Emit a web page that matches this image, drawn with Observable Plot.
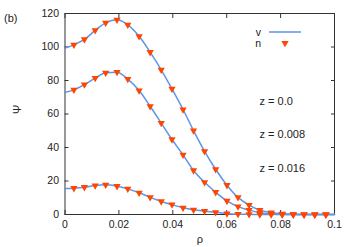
<!DOCTYPE html>
<html><head><meta charset="utf-8">
<script src="https://cdn.jsdelivr.net/npm/d3@7"></script>
<script src="https://cdn.jsdelivr.net/npm/@observablehq/plot@0.6"></script>
<style>
body{margin:0;background:#fff;}
#chart{position:relative;width:353px;height:247px;}
</style></head>
<body><div id="chart"></div>
<script>
const rho = [0.0033,0.0072,0.0112,0.0151,0.0193,0.0233,0.0275,0.0316,0.0357,0.0397,0.0438,0.0477,0.0518,0.0559,0.0601,0.0642,0.0683,0.0723,0.0765,0.0806,0.0847,0.0887,0.0927,0.0968];
const nZ0    = [101.3,104.5,109.9,114.4,116.2,113.2,106.4,96.9,86.4,75.0,62.7,50.1,37.7,27.0,17.5,10.2,5.6,2.6,1.2,0.4,0.1,0,0,0];
const nZ008  = [74.4,77.6,81.4,84.6,85.0,80.8,74.0,64.6,54.6,44.8,35.6,26.3,19.2,13.3,8.1,4.7,2.6,1.1,0.4,0.1,0,0,0,0];
const nZ016  = [15.7,16.3,17.3,17.7,16.9,15.3,13.0,10.3,7.8,5.9,4.0,2.8,2.0,1.3,0.5,0.2,0.1,0,0,0,0,0,0,0];
const vStart = [99.3,73.0,15.5];
const vEnd = [0,0,0];
const rhoStart = 0, rhoEnd = 0.1;
const seriesNames = ["z = 0.0","z = 0.008","z = 0.016"];
const xTicks = [0,0.02,0.04,0.06,0.08,0.1];
const yTicks = [0,20,40,60,80,100,120];

const nSeries = [nZ0,nZ008,nZ016];
const points = [];
nSeries.forEach((arr,s)=>arr.forEach((v,i)=>points.push({s,rho:rho[i],psi:v})));
const lines = [];
nSeries.forEach((arr,s)=>{
  lines.push({s,rho:rhoStart,psi:vStart[s]});
  arr.forEach((v,i)=>lines.push({s,rho:rho[i],psi:v}));
  lines.push({s,rho:rhoEnd,psi:vEnd[s]});
});

const lineColor = "#5e95e8", dotColor = "#ff4500", ink = "#222";

const legend = (index, scales, values, dims) => {
  const g = d3.create("svg:g");
  const xr = dims.width - dims.marginRight;
  const yt = dims.marginTop;
  g.append("text").attr("x", xr-73).attr("y", yt+19).attr("dy","0.35em").attr("text-anchor","end").attr("fill",ink).text("v");
  g.append("line").attr("x1", xr-65).attr("x2", xr-33).attr("y1", yt+19).attr("y2", yt+19).attr("stroke",lineColor).attr("stroke-width",1.5);
  g.append("text").attr("x", xr-73).attr("y", yt+30).attr("dy","0.35em").attr("text-anchor","end").attr("fill",ink).text("n");
  g.append("path").attr("transform",`translate(${xr-49},${yt+30}) rotate(180)`).attr("d", d3.symbol(d3.symbolTriangle, 23)()).attr("fill",dotColor);
  return g.node();
};

const labelDy = [84,117,151];

const chart = Plot.plot({
  width: 353, height: 247,
  marginLeft: 64.5, marginRight: 19, marginTop: 13, marginBottom: 33,
  style: {fontFamily: "'Liberation Sans', Arial, sans-serif", fontSize: "10.5px", color: ink, background: "#fff"},
  x: {domain: [0,0.1], label: null},
  y: {domain: [0,120], label: null},
  marks: [
    Plot.frame({stroke: "#333"}),
    Plot.axisX({anchor:"bottom", ticks: xTicks, tickSize: -4, tickPadding: 10, tickFormat: d => String(+d.toFixed(2)), stroke:"#333", fill: ink, label: null}),
    Plot.axisX({anchor:"top", ticks: xTicks, tickSize: -4, tickFormat: () => "", stroke:"#333", label: null}),
    Plot.axisY({anchor:"left", ticks: yTicks, tickSize: -4, tickPadding: 10, stroke:"#333", fill: ink, label: null}),
    Plot.axisY({anchor:"right", ticks: yTicks, tickSize: -4, tickFormat: () => "", stroke:"#333", label: null}),
    Plot.line(lines, {x:"rho", y:"psi", z:"s", stroke: lineColor, strokeWidth: 1.5, curve: "monotone-x"}),
    Plot.dot(points, {x:"rho", y:"psi", symbol:"triangle", r: 2.7, fill: dotColor, rotate: 180}),
    ...seriesNames.map((t,i)=>Plot.text([t], {frameAnchor:"top-right", textAnchor:"start", dx: -75, dy: labelDy[i], fill: ink, fontSize: 11})),
    Plot.text(["Ψ"], {frameAnchor:"left", dx: -47.5, rotate: -90, fill: ink, fontSize: 11}),
    Plot.text(["ρ"], {frameAnchor:"bottom", dy: 28, fill: ink, fontSize: 11}),
    Plot.text(["(b)"], {frameAnchor:"top-left", dx: -61, dy: 1, textAnchor:"start", fill: ink, fontSize: 11}),
    legend
  ]
});
document.getElementById("chart").appendChild(chart);
</script></body></html>
